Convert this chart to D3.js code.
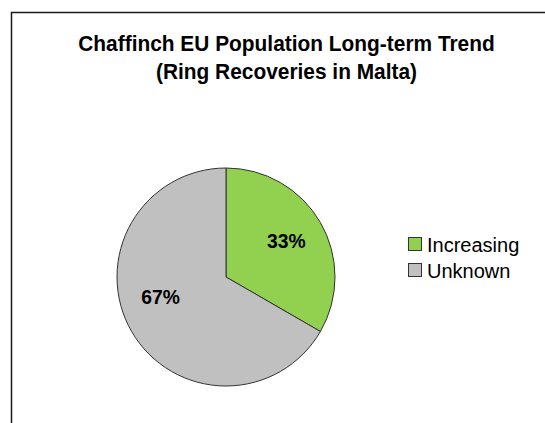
<!DOCTYPE html>
<html>
<head>
<meta charset="utf-8">
<script src="https://cdn.jsdelivr.net/npm/d3@7"></script>
<style>
  html, body { margin: 0; padding: 0; background: #fff; }
  svg { display: block; }
</style>
</head>
<body>
<svg id="chart" width="545" height="423"></svg>
<script>
const titleLines = ["Chaffinch EU Population Long-term Trend", "(Ring Recoveries in Malta)"];
const categories = ["Increasing", "Unknown"];
const values = [1, 2];
const percentLabels = ["33%", "67%"];
const colors = ["#92D050", "#C0C0C0"];

const svg = d3.select("#chart");
const font = "'Liberation Sans', Arial, sans-serif";

// outer frame (extends past right/bottom)
svg.append("rect")
  .attr("x", 11.5).attr("y", 12.5)
  .attr("width", 600).attr("height", 500)
  .attr("fill", "#fff").attr("stroke", "#1a1a1a").attr("stroke-width", 1.5);

// title (slightly condensed, as in the reference)
const title = svg.append("text")
  .attr("text-anchor", "middle")
  .attr("transform", "translate(286.5,0) scale(0.95,1)")
  .attr("font-family", font).attr("font-weight", "bold")
  .attr("font-size", 22).attr("fill", "#000");
titleLines.forEach((t, i) => {
  title.append("tspan").attr("x", 0).attr("y", 51 + i * 28).text(t);
});

// pie
const cx = 226, cy = 277, r = 109;
const pie = d3.pie().sort(null).value(d => d.v);
const data = pie(categories.map((c, i) => ({ c, v: values[i], lab: percentLabels[i], col: colors[i] })));
const arc = d3.arc().innerRadius(0).outerRadius(r);
const labelArc = d3.arc().innerRadius(r * 0.64).outerRadius(r * 0.64);
// Excel best-fit placement nudges the large-slice label upward a little
const isLarge = d => d.endAngle - d.startAngle > Math.PI;

const g = svg.append("g").attr("transform", `translate(${cx},${cy})`);
g.selectAll("path").data(data).join("path")
  .attr("d", arc)
  .attr("fill", d => d.data.col)
  .attr("stroke", "#333").attr("stroke-width", 1);

g.selectAll("text").data(data).join("text")
  .attr("transform", d => {
    const [x, y] = labelArc.centroid(d);
    return `translate(${x - (isLarge(d) ? 5 : 0)},${y + (isLarge(d) ? -15 : -2)}) scale(0.92,1)`;
  })
  .attr("text-anchor", "middle").attr("dy", "0.36em")
  .attr("font-family", font).attr("font-weight", "bold")
  .attr("font-size", 21).attr("fill", "#000")
  .text(d => d.data.lab);

// legend
const leg = svg.append("g").attr("transform", "translate(408,237)");
const rows = leg.selectAll("g").data(categories).join("g")
  .attr("transform", (d, i) => `translate(0,${i * 26})`);
rows.append("rect")
  .attr("x", 0.5).attr("y", 0.5).attr("width", 13).attr("height", 13)
  .attr("fill", (d, i) => colors[i]).attr("stroke", "#333").attr("stroke-width", 1);
rows.append("text")
  .attr("x", 19).attr("y", 15)
  .attr("font-family", font).attr("font-size", 20).attr("fill", "#000")
  .text(d => d);
</script>
</body>
</html>
